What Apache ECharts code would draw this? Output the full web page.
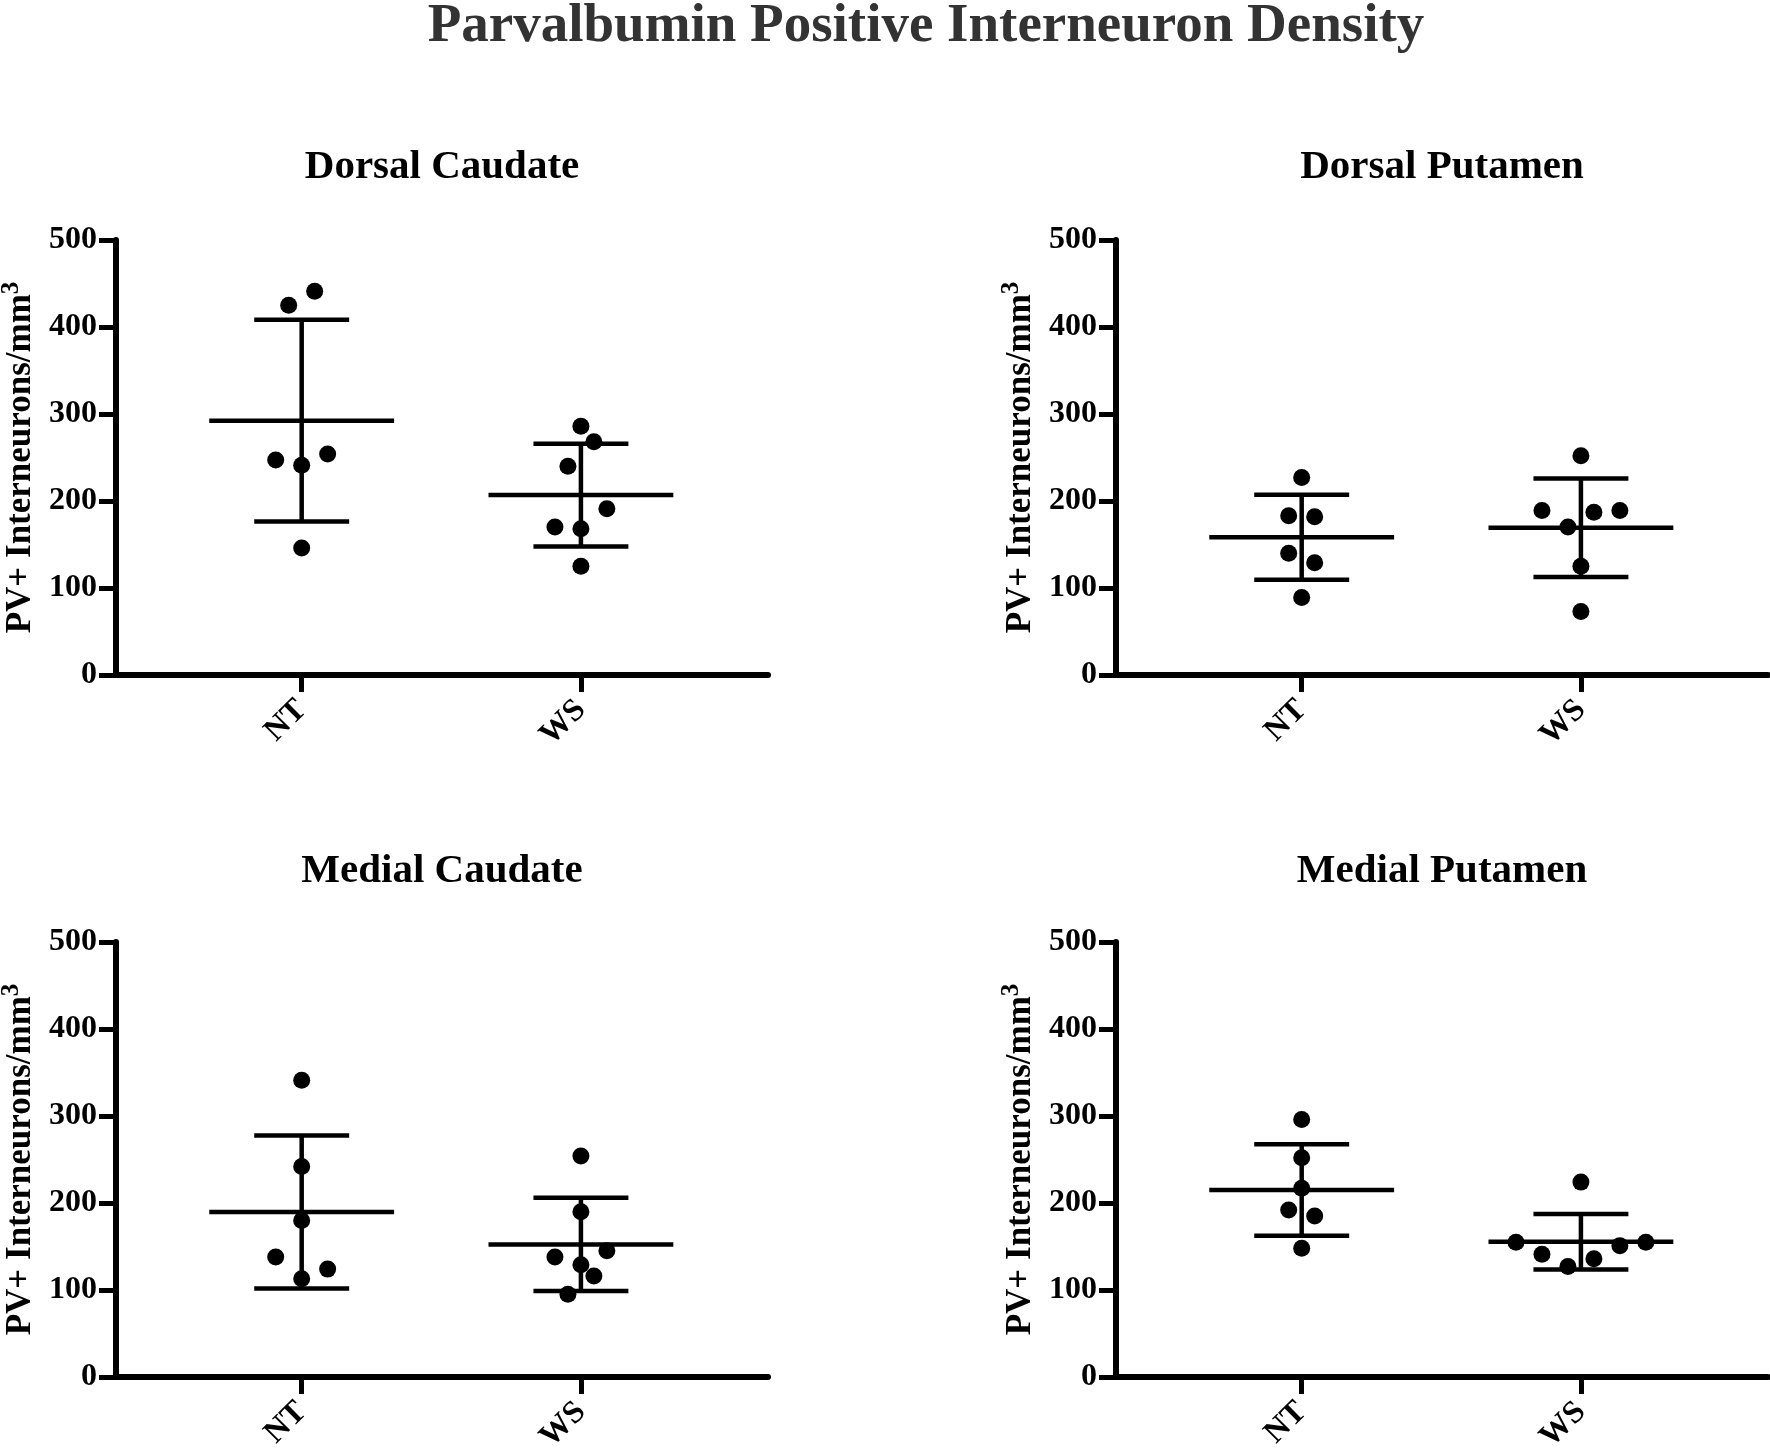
<!DOCTYPE html>
<html>
<head>
<meta charset="utf-8">
<script src="https://cdn.jsdelivr.net/npm/echarts@6/dist/echarts.min.js"></script>
<style>
html,body{margin:0;padding:0;background:#ffffff;}
#main{width:1770px;height:1450px;}
</style>
</head>
<body>
<div id="main"></div>
<script>
// ---- Data ----
const groups = ['NT', 'WS'];
const yTicks = [0, 100, 200, 300, 400, 500];
const mainTitle = 'Parvalbumin Positive Interneuron Density';
const panelTitles = ['Dorsal Caudate', 'Dorsal Putamen', 'Medial Caudate', 'Medial Putamen'];
const yAxisName = 'PV+ Interneurons/mm{sup|3}';

const dorsalCaudateNT = [425, 441, 247, 241, 254, 146];
const dorsalCaudateWS = [286, 268, 240, 191, 170, 168, 125];
const dorsalPutamenNT = [227, 183, 182, 140, 129, 89];
const dorsalPutamenWS = [252, 189, 187, 189, 170, 125, 73];
const medialCaudateNT = [341, 242, 180, 138, 124, 113];
const medialCaudateWS = [254, 190, 145, 138, 129, 116, 95];
const medialPutamenNT = [296, 252, 217, 192, 185, 148];
const medialPutamenWS = [224, 155, 151, 155, 141, 136, 127];

// horizontal jitter slot of each point (scatter-dot-plot column layout)
const dorsalCaudateNTSlot = [-1, 1, -2, 0, 2, 0];
const dorsalCaudateWSSlot = [0, 1, -1, 2, -2, 0, 0];
const dorsalPutamenNTSlot = [0, -1, 1, -1, 1, 0];
const dorsalPutamenWSSlot = [0, -3, 1, 3, -1, 0, 0];
const medialCaudateNTSlot = [0, 0, 0, -2, 2, 0];
const medialCaudateWSSlot = [0, 0, 2, -2, 0, 1, -1];
const medialPutamenNTSlot = [0, 0, 0, -1, 1, 0];
const medialPutamenWSSlot = [0, -5, 3, 5, -3, 1, -1];

// ---- Styling / layout ----
const FONT = '"Liberation Serif", "Times New Roman", Times, serif';
const SLOT_W = 0.0465;      // width of one jitter slot in x-axis units
const MEAN_HALF = 0.331;    // half width of mean line (x units)
const CAP_HALF = 0.17;      // half width of SD caps (x units)
const GRID_W = 652, GRID_H = 435;
const layout = [
  {left: 116, top: 240, titleY: 167},
  {left: 1116, top: 240, titleY: 167},
  {left: 116, top: 942, titleY: 871},
  {left: 1116, top: 942, titleY: 871}
];

const panelData = [
  [[dorsalCaudateNT, dorsalCaudateNTSlot], [dorsalCaudateWS, dorsalCaudateWSSlot]],
  [[dorsalPutamenNT, dorsalPutamenNTSlot], [dorsalPutamenWS, dorsalPutamenWSSlot]],
  [[medialCaudateNT, medialCaudateNTSlot], [medialCaudateWS, medialCaudateWSSlot]],
  [[medialPutamenNT, medialPutamenNTSlot], [medialPutamenWS, medialPutamenWSSlot]]
];

function mean(a) { return a.reduce((s, v) => s + v, 0) / a.length; }
function sd(a) {
  const m = mean(a);
  return Math.sqrt(a.reduce((s, v) => s + (v - m) * (v - m), 0) / (a.length - 1));
}

const option = {
  animation: false,
  backgroundColor: '#ffffff',
  title: [{
    text: mainTitle,
    left: 926, top: 2, textAlign: 'center', padding: 0,
    textStyle: {fontFamily: FONT, fontWeight: 'bold', fontSize: 55, lineHeight: 50, color: '#333333'}
  }],
  grid: [], xAxis: [], yAxis: [], series: []
};

layout.forEach((L, i) => {
  option.title.push({
    text: panelTitles[i],
    left: L.left + GRID_W / 2, top: L.titleY - 20.5, textAlign: 'center', padding: 0,
    textStyle: {fontFamily: FONT, fontWeight: 'bold', fontSize: 41, lineHeight: 41, color: '#000000'}
  });
  option.grid.push({
    left: L.left, top: L.top, width: GRID_W, height: GRID_H,
    containLabel: false, outerBoundsMode: 'none', show: false
  });
  option.xAxis.push({
    type: 'value', gridIndex: i, min: 0.335, max: 2.67,
    axisLine: {show: true, onZero: false, lineStyle: {color: '#000', width: 6}},
    axisTick: {show: true, customValues: [1, 2], length: 17, lineStyle: {color: '#000', width: 5}},
    axisLabel: {
      show: true, customValues: [1, 2], rotate: 45, margin: 30,
      formatter: v => groups[Math.round(v) - 1] || '',
      fontFamily: FONT, fontWeight: 'bold', fontSize: 32, color: '#000'
    },
    splitLine: {show: false}
  });
  option.yAxis.push({
    type: 'value', gridIndex: i, min: yTicks[0], max: yTicks[yTicks.length - 1], interval: 100,
    name: yAxisName, nameLocation: 'middle', nameGap: 73, nameRotate: 90,
    nameTextStyle: {
      fontFamily: FONT, fontWeight: 'bold', fontSize: 35, lineHeight: 44, color: '#000',
      rich: {sup: {fontFamily: FONT, fontWeight: 'bold', fontSize: 25, lineHeight: 25, verticalAlign: 'top', color: '#000'}}
    },
    axisLine: {show: true, onZero: false, lineStyle: {color: '#000', width: 6}},
    axisTick: {show: true, length: 17, lineStyle: {color: '#000', width: 5}},
    axisLabel: {margin: 19, fontFamily: FONT, fontWeight: 'bold', fontSize: 32, color: '#000'},
    splitLine: {show: false}
  });

  const stats = panelData[i].map((g, gi) => [gi + 1, mean(g[0]), sd(g[0])]);
  option.series.push({
    type: 'custom', xAxisIndex: i, yAxisIndex: i, z: 2,
    data: stats,
    renderItem: (params, api) => {
      const x = api.value(0), m = api.value(1), s = api.value(2);
      const st = {stroke: '#000', lineWidth: 4.5, fill: null};
      const seg = (xa, ya, xb, yb) => {
        const p1 = api.coord([xa, ya]), p2 = api.coord([xb, yb]);
        return {type: 'line', shape: {x1: p1[0], y1: p1[1], x2: p2[0], y2: p2[1]}, style: st};
      };
      return {type: 'group', children: [
        seg(x - MEAN_HALF, m, x + MEAN_HALF, m),
        seg(x - CAP_HALF, m + s, x + CAP_HALF, m + s),
        seg(x - CAP_HALF, m - s, x + CAP_HALF, m - s),
        seg(x, m - s, x, m + s)
      ]};
    }
  });

  panelData[i].forEach((g, gi) => {
    option.series.push({
      type: 'scatter', xAxisIndex: i, yAxisIndex: i, z: 3,
      symbol: 'circle', symbolSize: 17,
      itemStyle: {color: '#000', opacity: 1},
      data: g[0].map((v, k) => [gi + 1 + g[1][k] * SLOT_W, v])
    });
  });
});

const chart = echarts.init(document.getElementById('main'), null, {renderer: 'canvas'});
chart.setOption(option);
</script>
</body>
</html>
